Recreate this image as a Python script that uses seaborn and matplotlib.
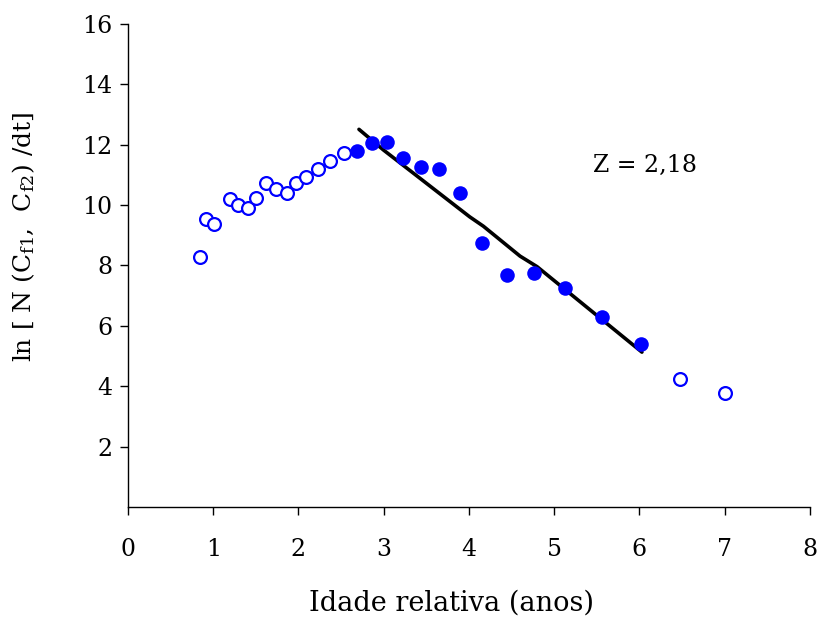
import matplotlib
matplotlib.use("Agg")
import matplotlib.pyplot as plt
import seaborn as sns
import pandas as pd

# Open (not used in fit) points
open_x = [0.85, 0.92, 1.01, 1.20, 1.29, 1.41, 1.50, 1.62, 1.74, 1.86, 1.97, 2.09, 2.23, 2.37, 2.54, 6.48, 7.01]
open_y = [8.27, 9.53, 9.39, 10.19, 9.99, 9.92, 10.25, 10.74, 10.52, 10.39, 10.74, 10.92, 11.18, 11.45, 11.71, 4.25, 3.76]

# Filled (used in fit) points
fill_x = [2.69, 2.86, 3.04, 3.23, 3.44, 3.65, 3.89, 4.15, 4.45, 4.76, 5.13, 5.56, 6.02]
fill_y = [11.80, 12.07, 12.09, 11.56, 11.27, 11.20, 10.41, 8.73, 7.67, 7.74, 7.27, 6.28, 5.40]

# Fitted catch curve
fit_x = [2.71, 3.00, 4.01, 4.17, 4.60, 4.80, 6.03]
fit_y = [12.51, 11.82, 9.61, 9.30, 8.31, 7.96, 5.13]

z_label = "Z = 2,18"

sns.set_theme(style="ticks")
plt.rcParams["font.family"] = ["DejaVu Serif"]
plt.rcParams["mathtext.fontset"] = "dejavuserif"

fig = plt.figure(figsize=(8.18, 6.2), dpi=100)
ax = fig.add_axes([0.1565, 0.1823, 0.8335, 0.779])

df_open = pd.DataFrame({"x": open_x, "y": open_y})
df_fill = pd.DataFrame({"x": fill_x, "y": fill_y})
df_fit = pd.DataFrame({"x": fit_x, "y": fit_y})

sns.lineplot(data=df_fit, x="x", y="y", ax=ax, color="black", linewidth=2.6,
             sort=False, estimator=None, zorder=2)
sns.scatterplot(data=df_fill, x="x", y="y", ax=ax, color="#0000FF", s=110,
                edgecolor="#0000FF", linewidth=0, zorder=3)
sns.scatterplot(data=df_open, x="x", y="y", ax=ax, facecolor="white", s=85,
                edgecolor="#0000FF", linewidth=1.6, zorder=3)

ax.set_xlim(0, 8)
ax.set_ylim(0, 16)
ax.set_xticks(range(0, 9))
ax.set_yticks(range(2, 17, 2))

sns.despine(ax=ax)
for s in ["left", "bottom"]:
    ax.spines[s].set_color("black")
    ax.spines[s].set_linewidth(1.0)

ax.tick_params(axis="both", direction="out", length=6, width=1, color="black",
               labelsize=17, labelcolor="black")
ax.tick_params(axis="x", pad=16)
ax.tick_params(axis="y", pad=5)
ax.yaxis.set_ticks_position("left")
ax.xaxis.set_ticks_position("bottom")

ax.set_xlabel("Idade relativa (anos)", fontsize=19.5, color="black")
ax.set_ylabel(r"ln [ N (C$_{\mathrm{f1}}$,  C$_{\mathrm{f2}}$) /dt]", fontsize=18, color="black")
ax.xaxis.set_label_coords(0.474, -0.172)
ax.yaxis.set_label_coords(-0.133, 0.56)

ax.text(5.46, 11.32, z_label, fontsize=17, color="black", ha="left", va="center")

fig.savefig("out.png", dpi=100)
